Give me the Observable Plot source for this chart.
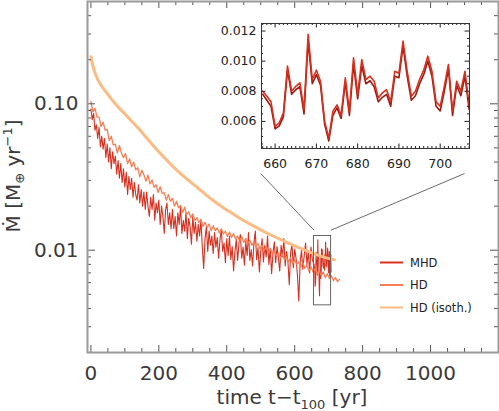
<!DOCTYPE html>
<html><head><meta charset="utf-8">
<script src="https://cdn.jsdelivr.net/npm/d3@7"></script>
<script src="https://cdn.jsdelivr.net/npm/@observablehq/plot@0.6"></script>
<style>
html,body{margin:0;padding:0;background:#fff;}
#wrap{position:relative;width:499px;height:411px;overflow:hidden;}
#wrap svg{position:absolute;left:0;top:0;}
</style></head><body><div id="wrap"></div>
<script>
// ---- series meta ----
const seriesNames = ["MHD", "HD", "HD (isoth.)"];
const seriesColors = ["#d7301f", "#f67e54", "#fdbb84"];
const insetColors = ["#d7301f", "#9e1a10"];

// ---- MHD (main panel), sampled every 4 yr from t=0 to 652 ----
const mhdStart = 0, mhdStep = 4;
const mhdValues = [
  0.092, 0.078, 0.086, 0.066, 0.072, 0.058, 0.069, 0.051, 0.060, 0.049,
  0.058, 0.043, 0.053, 0.040, 0.050, 0.036, 0.047, 0.039, 0.044, 0.033,
  0.041, 0.031, 0.039, 0.029, 0.036, 0.027, 0.034, 0.024, 0.032, 0.026,
  0.031, 0.023, 0.029, 0.024, 0.022, 0.028, 0.021, 0.026, 0.020, 0.025,
  0.019, 0.025, 0.020, 0.017, 0.023, 0.019, 0.024, 0.016, 0.021, 0.018,
  0.022, 0.015, 0.020, 0.017, 0.013, 0.019, 0.021, 0.015, 0.018, 0.014,
  0.019, 0.014, 0.017, 0.0125, 0.018, 0.015, 0.020, 0.013, 0.016, 0.0135,
  0.018, 0.012, 0.0165, 0.0145, 0.011, 0.017, 0.013, 0.0155, 0.0115, 0.015,
  0.0125, 0.016, 0.0105, 0.0075, 0.012, 0.0145, 0.0098, 0.0135, 0.0108, 0.0125,
  0.0095, 0.0132, 0.0105, 0.0122, 0.0088, 0.0118, 0.0138, 0.0098, 0.0112, 0.0082,
  0.0120, 0.0092, 0.0125, 0.0086, 0.0106, 0.0072, 0.0098, 0.0118, 0.0085, 0.0112,
  0.0128, 0.0088, 0.0105, 0.0079, 0.0115, 0.0092, 0.0132, 0.0085, 0.0101, 0.0078,
  0.0112, 0.0135, 0.0086, 0.0104, 0.0071, 0.0098, 0.0120, 0.0083, 0.0108, 0.0090,
  0.0125, 0.0080, 0.0102, 0.0069, 0.0095, 0.0114, 0.0082, 0.0106, 0.0088, 0.0072,
  0.0108, 0.0090, 0.0120, 0.0078, 0.0098, 0.0084, 0.0058, 0.0096, 0.0110, 0.0076,
  0.0102, 0.0088, 0.0068, 0.0045, 0.0082, 0.0100, 0.0074, 0.0092, 0.0112, 0.0080,
  0.0098, 0.0070, 0.0105, 0.0086
];

// ---- zoomed window (inset), yearly values ----
const insetT = [657,658,659,660,661,662,663,664,665,666,667,668,669,670,671,672,673,674,675,676,
  677,678,679,680,681,682,683,684,685,686,687,688,689,690,691,692,693,694,695,696,
  697,698,699,700,701,702,703,704,705,706,707];
const insetMhd = [0.0080,0.00767,0.0073,0.00567,0.0059,0.00656,0.00967,0.0080,0.00833,0.00856,
  0.00678,0.01178,0.00878,0.0094,0.00867,0.0060,0.00489,0.00667,0.0071,0.0064,
  0.0089,0.00667,0.01022,0.00778,0.0101,0.00878,0.0090,0.00867,0.00756,0.0079,
  0.0081,0.0073,0.00933,0.0092,0.01133,0.00933,0.00767,0.0080,0.00878,0.0094,
  0.01033,0.00933,0.0073,0.0070,0.00833,0.00978,0.00667,0.00867,0.0080,0.00933,0.0071];
const insetMhd2 = [0.0078,0.0074,0.0070,0.0055,0.0057,0.0063,0.0094,0.0078,0.0081,0.0083,
  0.0065,0.0113,0.0085,0.0091,0.0084,0.0058,0.0047,0.0064,0.0069,0.0062,
  0.0086,0.0064,0.0098,0.0075,0.0097,0.0085,0.0087,0.0083,0.0073,0.0076,
  0.0078,0.0070,0.0090,0.0089,0.0110,0.0090,0.0074,0.0077,0.0085,0.0091,
  0.0100,0.0090,0.0070,0.0067,0.0080,0.0095,0.0064,0.0084,0.0077,0.0090,0.0068];

// ---- HD, sampled every 6 yr from t=0 to 732 ----
const hdStart = 0, hdStep = 6;
const hdValues = [
  0.104, 0.088, 0.093, 0.081, 0.081, 0.070, 0.075, 0.066, 0.067, 0.056,
  0.060, 0.0523, 0.053, 0.046, 0.0519, 0.046, 0.0428, 0.0457, 0.039, 0.0421,
  0.0371, 0.0400, 0.0354, 0.0366, 0.0317, 0.0352, 0.0328, 0.0296, 0.0326, 0.0284,
  0.0302, 0.0269, 0.0280, 0.0248, 0.0271, 0.0244, 0.0247, 0.0219, 0.0240, 0.0216,
  0.0226, 0.0200, 0.0216, 0.0195, 0.0202, 0.0181, 0.0197, 0.0175, 0.0183, 0.0167,
  0.0177, 0.0159, 0.0167, 0.0154, 0.0163, 0.0145, 0.0155, 0.0143, 0.0151, 0.0136,
  0.0147, 0.0136, 0.0142, 0.0131, 0.0140, 0.0129, 0.0135, 0.0124, 0.0133, 0.0122,
  0.0130, 0.0119, 0.0125, 0.0115, 0.0124, 0.0113, 0.0120, 0.0111, 0.0117, 0.0108,
  0.0114, 0.0106, 0.0111, 0.0102, 0.0108, 0.0100, 0.0105, 0.0096, 0.0103, 0.0095,
  0.0099, 0.0092, 0.0096, 0.0088, 0.0094, 0.0086, 0.0090, 0.0083, 0.0089, 0.0081,
  0.0086, 0.0080, 0.0083, 0.0077, 0.0082, 0.0075, 0.0079, 0.0072, 0.0077, 0.0071,
  0.0075, 0.0069, 0.0073, 0.0067, 0.0071, 0.0065, 0.0069, 0.0064, 0.0067, 0.0062,
  0.0065, 0.0061, 0.0063
];

// ---- HD (isothermal) ----
const isoT = [0, 5, 10, 15, 20, 30, 40, 50, 60, 75, 90, 105, 120, 140, 160, 180, 200, 220, 240, 265,
  290, 315, 340, 365, 390, 420, 450, 480, 510, 540, 570, 600, 630, 660, 690, 717];
const isoValues = [0.21, 0.185, 0.168, 0.156, 0.147, 0.134, 0.124, 0.116, 0.108, 0.098,
  0.090, 0.083, 0.076, 0.068, 0.060, 0.053, 0.047, 0.0420, 0.0376, 0.0332,
  0.0296, 0.0266, 0.0238, 0.0214, 0.0195, 0.0176, 0.0159, 0.0146, 0.0134, 0.0124,
  0.0115, 0.0107, 0.0100, 0.0094, 0.0089, 0.0086];

// ---- ticks ----
const xDomain = [-10, 1200];
const yDomain = [0.002, 0.5];
const xMajorTicks = [0, 200, 400, 600, 800, 1000, 1200];
const xTickLabels = [0, 200, 400, 600, 800, 1000];
const xMinorTicks = [50,100,150,250,300,350,450,500,550,650,700,750,850,900,950,1050,1100,1150];
const yMajorTicks = [0.01, 0.1];
const yTickLabels = ["0.01", "0.10"];
const yMinorTicks = [0.003,0.004,0.005,0.006,0.007,0.008,0.009,0.02,0.03,0.04,0.05,0.06,0.07,0.08,0.09,0.2,0.3,0.4];

const insetXDomain = [656.7, 707.1];
const insetYDomain = [0.0042, 0.0125];
const insetXMajor = [660, 670, 680, 690, 700];
const insetXMinor = [657,658,659,661,662,663,664,665,666,667,668,669,671,672,673,674,675,676,677,678,679,
  681,682,683,684,685,686,687,688,689,691,692,693,694,695,696,697,698,699,701,702,703,704,705,706,707];
const insetYMajor = [0.006, 0.008, 0.010, 0.012];
const insetYMinor = [0.0045,0.005,0.0055,0.0065,0.007,0.0075,0.0085,0.009,0.0095,0.0105,0.011,0.0115];

// zoom box and connectors (data coordinates)
const zoomBox = [{x1: 656.7, x2: 707.1, y1: 0.0042, y2: 0.0125}];
const connectors = [
  {x1: 656.7, y1: 0.0137, x2: 500, y2: 0.0334},
  {x1: 707.1, y1: 0.0137, x2: 1100, y2: 0.0334}
];

// ---- build tables ----
const mhd = mhdValues.map((v, i) => ({t: mhdStart + i * mhdStep, v}))
  .concat(insetT.map((t, i) => ({t, v: insetMhd[i]})));
const hd = hdValues.map((v, i) => ({t: hdStart + i * hdStep, v}));
const iso = isoT.map((t, i) => ({t, v: isoValues[i]}));
const ins1 = insetT.map((t, i) => ({t, v: insetMhd[i]}));
const ins2 = insetT.map((t, i) => ({t, v: insetMhd2[i]}));

const W = 499, H = 411;
const mL = 87, mR = 1, mT = 1, mB = 59;
const fw = W - mL - mR, fh = H - mT - mB;
const tickCol = "#555";
const FONT = "DejaVu Sans";
const TXT = "#3a3a3a";

const main = Plot.plot({
  width: W, height: H,
  marginLeft: mL, marginRight: mR, marginTop: mT, marginBottom: mB,
  axis: null,
  x: {domain: xDomain},
  y: {type: "log", domain: yDomain},
  style: {fontFamily: FONT, background: "transparent"},
  marks: [
    Plot.line(mhd, {x: "t", y: "v", stroke: seriesColors[0], strokeWidth: 1.1}),
    Plot.line(hd, {x: "t", y: "v", stroke: seriesColors[1], strokeWidth: 1.3}),
    Plot.line(iso, {x: "t", y: "v", stroke: seriesColors[2], strokeWidth: 3, curve: "catmull-rom"}),
    Plot.rect(zoomBox, {x1: "x1", x2: "x2", y1: "y1", y2: "y2", fill: "none", stroke: "#666", strokeWidth: 1}),
    Plot.link(connectors, {x1: "x1", y1: "y1", x2: "x2", y2: "y2", stroke: "#444", strokeWidth: 0.8}),
    // x ticks (inward, bottom + top)
    Plot.tickX(xMajorTicks, {x: d => d, insetTop: fh - 7, stroke: tickCol}),
    Plot.tickX(xMajorTicks, {x: d => d, insetBottom: fh - 7, stroke: tickCol}),
    Plot.tickX(xMinorTicks, {x: d => d, insetTop: fh - 4, stroke: tickCol}),
    Plot.tickX(xMinorTicks, {x: d => d, insetBottom: fh - 4, stroke: tickCol}),
    // y ticks (inward, left + right)
    Plot.tickY(yMajorTicks, {y: d => d, insetRight: fw - 8, stroke: tickCol}),
    Plot.tickY(yMajorTicks, {y: d => d, insetLeft: fw - 8, stroke: tickCol}),
    Plot.tickY(yMinorTicks, {y: d => d, insetRight: fw - 4, stroke: tickCol}),
    Plot.tickY(yMinorTicks, {y: d => d, insetLeft: fw - 4, stroke: tickCol}),
    Plot.frame({stroke: "#9a9a9a", strokeWidth: 2}),
    Plot.text(xTickLabels, {x: d => d, frameAnchor: "bottom", dy: 21, text: d => String(d),
      fontSize: 20, fill: TXT, lineAnchor: "middle"}),
    Plot.text(yMajorTicks, {y: d => d, frameAnchor: "left", dx: -9, text: (d, i) => yTickLabels[i],
      textAnchor: "end", fontSize: 20, fill: TXT, lineAnchor: "middle"})
  ]
});

const inset = Plot.plot({
  width: W, height: H,
  marginLeft: 261, marginRight: 30, marginTop: 23, marginBottom: 263,
  axis: null,
  x: {domain: insetXDomain},
  y: {domain: insetYDomain},
  style: {fontFamily: FONT, background: "transparent"},
  marks: [
    Plot.frame({fill: "white", stroke: "none"}),
    Plot.line(ins2, {x: "t", y: "v", stroke: insetColors[1], strokeWidth: 1.6}),
    Plot.line(ins1, {x: "t", y: "v", stroke: insetColors[0], strokeWidth: 1.6}),
    Plot.tickX(insetXMajor, {x: d => d, insetTop: 125 - 4.5, stroke: "#222"}),
    Plot.tickX(insetXMajor, {x: d => d, insetBottom: 125 - 4.5, stroke: "#222"}),
    Plot.tickX(insetXMinor, {x: d => d, insetTop: 125 - 2, stroke: "#222"}),
    Plot.tickX(insetXMinor, {x: d => d, insetBottom: 125 - 2, stroke: "#222"}),
    Plot.tickY(insetYMajor, {y: d => d, insetRight: 208 - 4.5, stroke: "#222"}),
    Plot.tickY(insetYMajor, {y: d => d, insetLeft: 208 - 4.5, stroke: "#222"}),
    Plot.tickY(insetYMinor, {y: d => d, insetRight: 208 - 2, stroke: "#222"}),
    Plot.tickY(insetYMinor, {y: d => d, insetLeft: 208 - 2, stroke: "#222"}),
    Plot.frame({stroke: "#333", strokeWidth: 1}),
    Plot.text(insetXMajor, {x: d => d, frameAnchor: "bottom", dy: 15, text: d => String(d),
      fontSize: 12.5, fill: "#222", lineAnchor: "middle"}),
    Plot.text(insetYMajor, {y: d => d, frameAnchor: "left", dx: -5, text: d => d.toFixed(3),
      textAnchor: "end", fontSize: 12.5, fill: "#222", lineAnchor: "middle"})
  ]
});

const wrap = document.getElementById("wrap");
wrap.appendChild(main);
wrap.appendChild(inset);

// axis titles and legend (real text)
const svg = d3.select(main);
const xl = svg.append("text").attr("x", 292).attr("y", 404).attr("text-anchor", "middle")
  .attr("font-family", FONT).attr("font-size", 20).attr("fill", TXT);
xl.append("tspan").text("time t\u2212t");
xl.append("tspan").attr("font-size", 13).attr("dy", 5).text("100");
xl.append("tspan").attr("dy", -5).text(" [yr]");

const yl = svg.append("text").attr("transform", "translate(20,176) rotate(-90)").attr("text-anchor", "middle")
  .attr("font-family", FONT).attr("font-size", 20).attr("fill", TXT);
yl.append("tspan").text("\u1E40 [M");
yl.append("tspan").attr("font-size", 13).attr("dy", 4).text("\u2295");
yl.append("tspan").attr("dy", -4).text(" yr");
yl.append("tspan").attr("font-size", 13).attr("dy", -8).text("\u22121");
yl.append("tspan").attr("dy", 8).text("]");

const legY = [262.5, 285, 307.5];
seriesNames.forEach((name, i) => {
  svg.append("line").attr("x1", 380).attr("x2", 403).attr("y1", legY[i]).attr("y2", legY[i])
    .attr("stroke", seriesColors[i]).attr("stroke-width", 2);
  svg.append("text").attr("x", 410).attr("y", legY[i]).attr("dy", "0.35em")
    .attr("text-anchor", "start")
    .attr("font-family", FONT).attr("font-size", 11.5).attr("fill", "#222").text(name);
});
</script></body></html>
